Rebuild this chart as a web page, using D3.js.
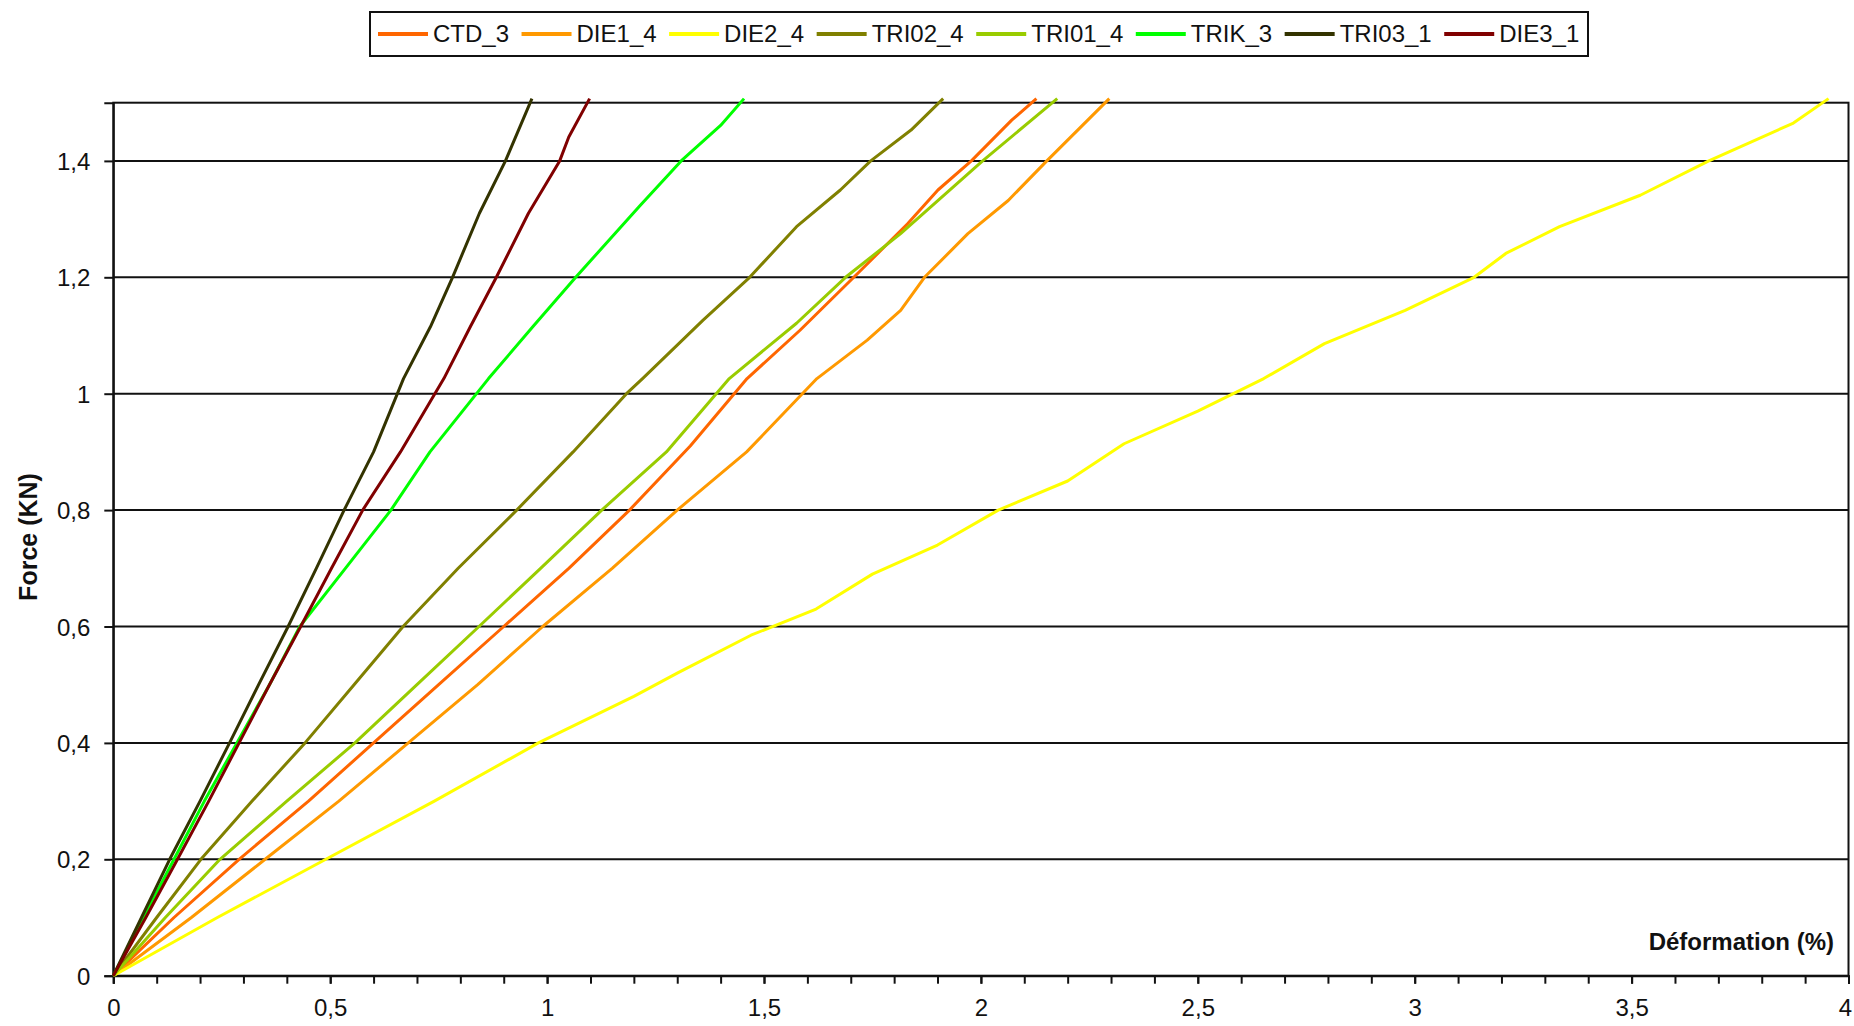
<!DOCTYPE html>
<html>
<head>
<meta charset="utf-8">
<script src="https://cdn.jsdelivr.net/npm/d3@7"></script>
<style>
  html, body { margin: 0; padding: 0; background: #fff; }
  svg { display: block; font-family: "Liberation Sans", Arial, sans-serif; }
</style>
</head>
<body>
<svg id="chart" width="1854" height="1026"></svg>
<script>
// ---- data (deformation %, force kN) ----
const seriesNames = ["CTD_3", "DIE1_4", "DIE2_4", "TRI02_4", "TRI01_4", "TRIK_3", "TRI03_1", "DIE3_1"];
const seriesColors = ["#FF6600", "#FF9900", "#FFFF00", "#808000", "#99CC00", "#00FF00", "#333300", "#800000"];

const CTD_3 = [[0,0],[0.14,0.1],[0.29,0.2],[0.45,0.3],[0.6,0.4],[0.75,0.5],[0.9,0.6],[1.05,0.7],[1.19,0.8],[1.33,0.91],[1.461,1.026],[1.583,1.109],[1.707,1.2],[1.831,1.292],[1.901,1.35],[1.978,1.4],[2.071,1.47],[2.128,1.507]];
const DIE1_4 = [[0,0],[0.18,0.1],[0.35,0.2],[0.52,0.3],[0.68,0.4],[0.84,0.5],[0.99,0.6],[1.15,0.7],[1.3,0.8],[1.46,0.9],[1.622,1.026],[1.738,1.092],[1.815,1.143],[1.87,1.2],[1.97,1.275],[2.063,1.332],[2.152,1.4],[2.296,1.507]];
const DIE2_4 = [[0,0],[0.24,0.1],[0.49,0.2],[0.74,0.3],[0.98,0.4],[1.2,0.48],[1.3,0.52],[1.47,0.585],[1.62,0.63],[1.75,0.69],[1.9,0.74],[2.04,0.8],[2.2,0.85],[2.33,0.914],[2.5,0.97],[2.652,1.026],[2.792,1.086],[2.978,1.143],[3.137,1.2],[3.21,1.241],[3.334,1.287],[3.52,1.341],[3.678,1.4],[3.873,1.465],[3.954,1.507]];
const TRI02_4 = [[0,0],[0.1,0.1],[0.202,0.2],[0.32,0.3],[0.442,0.4],[0.555,0.5],[0.668,0.6],[0.795,0.7],[0.93,0.8],[1.06,0.9],[1.183,1.0],[1.22,1.026],[1.359,1.126],[1.467,1.2],[1.575,1.287],[1.676,1.35],[1.746,1.4],[1.839,1.453],[1.913,1.507]];
const TRI01_4 = [[0,0],[0.12,0.1],[0.246,0.2],[0.4,0.3],[0.557,0.4],[0.7,0.5],[0.843,0.6],[0.985,0.7],[1.126,0.8],[1.275,0.9],[1.42,1.026],[1.575,1.121],[1.688,1.2],[1.815,1.275],[2.004,1.4],[2.176,1.507]];
const TRIK_3 = [[0,0],[0.07,0.1],[0.14,0.2],[0.21,0.3],[0.285,0.4],[0.36,0.5],[0.43,0.6],[0.535,0.7],[0.64,0.8],[0.73,0.9],[0.865,1.026],[0.967,1.115],[1.066,1.2],[1.215,1.324],[1.309,1.4],[1.4,1.461],[1.454,1.507]];
const TRI03_1 = [[0,0],[0.065,0.1],[0.13,0.2],[0.2,0.3],[0.268,0.4],[0.335,0.5],[0.403,0.6],[0.468,0.7],[0.532,0.8],[0.6,0.9],[0.669,1.026],[0.731,1.115],[0.782,1.2],[0.844,1.31],[0.904,1.4],[0.965,1.507]];
const DIE3_1 = [[0,0],[0.075,0.1],[0.148,0.2],[0.22,0.3],[0.29,0.4],[0.36,0.5],[0.432,0.6],[0.503,0.7],[0.575,0.8],[0.662,0.9],[0.762,1.026],[0.823,1.115],[0.883,1.2],[0.957,1.31],[1.029,1.4],[1.05,1.441],[1.098,1.507]];
const seriesData = [CTD_3, DIE1_4, DIE2_4, TRI02_4, TRI01_4, TRIK_3, TRI03_1, DIE3_1];

const yTickValues = [0, 0.2, 0.4, 0.6, 0.8, 1, 1.2, 1.4];
const yTickLabels = ["0", "0,2", "0,4", "0,6", "0,8", "1", "1,2", "1,4"];
const xTickValues = [0, 0.5, 1, 1.5, 2, 2.5, 3, 3.5, 4];
const xTickLabels = ["0", "0,5", "1", "1,5", "2", "2,5", "3", "3,5", "4"];
const xMinorTicks = d3.range(0, 41).map(i => i / 10);

// ---- layout ----
const svg = d3.select("#chart");
const L = 113.3, R = 1848.5, T = 102.7, B = 975.7;
const x = d3.scaleLinear().domain([0, 4]).range([L, R]);
const y = d3.scaleLinear().domain([0, 1.5]).range([B, T]);

// gridlines
svg.append("g").selectAll("line").data(yTickValues.filter(v => v > 0)).join("line")
  .attr("x1", L).attr("x2", R).attr("y1", d => y(d)).attr("y2", d => y(d))
  .attr("stroke", "#111").attr("stroke-width", 2);

// plot border
svg.append("rect").attr("x", L).attr("y", T).attr("width", R - L).attr("height", B - T)
  .attr("fill", "none").attr("stroke", "#111").attr("stroke-width", 2);

// y axis
const yAxis = svg.append("g").attr("transform", `translate(${L},0)`)
  .call(d3.axisLeft(y).tickValues(yTickValues).tickSize(9).tickPadding(14)
    .tickFormat((d, i) => yTickLabels[i]));
yAxis.select(".domain").attr("stroke", "#111").attr("stroke-width", 2);
yAxis.selectAll(".tick line").attr("stroke", "#111").attr("stroke-width", 2);
yAxis.selectAll(".tick text").attr("font-size", 24).attr("fill", "#111")
  .attr("font-family", "Liberation Sans, Arial, sans-serif").attr("dy", "0.36em");

// x axis minor ticks
const xMinor = svg.append("g").attr("transform", `translate(0,${B})`)
  .call(d3.axisBottom(x).tickValues(xMinorTicks).tickSize(8).tickFormat(""));
xMinor.select(".domain").attr("stroke", "#111").attr("stroke-width", 2);
xMinor.selectAll(".tick line").attr("stroke", "#111").attr("stroke-width", 2);

// x axis major labels
const xAxis = svg.append("g").attr("transform", `translate(0,${B})`)
  .call(d3.axisBottom(x).tickValues(xTickValues).tickSize(8).tickPadding(10)
    .tickFormat((d, i) => xTickLabels[i]));
xAxis.select(".domain").remove();
xAxis.selectAll(".tick line").attr("stroke", "#111").attr("stroke-width", 2);
xAxis.selectAll(".tick text").attr("font-size", 24).attr("fill", "#111")
  .attr("font-family", "Liberation Sans, Arial, sans-serif").attr("dy", "0.95em");
// keep the last label inside the page
xAxis.selectAll(".tick text").filter(d => d === 4).attr("text-anchor", "end").attr("x", 3);

// series
const line = d3.line().x(d => x(d[0])).y(d => y(d[1]));
svg.append("g").selectAll("path").data(seriesData).join("path")
  .attr("d", line)
  .attr("fill", "none")
  .attr("stroke", (d, i) => seriesColors[i])
  .attr("stroke-width", 3)
  .attr("stroke-linejoin", "round");

// axis titles
svg.append("text").attr("x", 1834).attr("y", 950).attr("text-anchor", "end")
  .attr("font-size", 24).attr("font-weight", "bold").attr("fill", "#111")
  .text("Déformation (%)");
svg.append("text").attr("transform", "translate(36.5,537) rotate(-90)")
  .attr("text-anchor", "middle").attr("font-size", 25).attr("font-weight", "bold").attr("fill", "#111")
  .text("Force (KN)");

// legend
const lg = svg.append("g");
lg.append("rect").attr("x", 370).attr("y", 12).attr("width", 1218).attr("height", 44)
  .attr("fill", "#fff").attr("stroke", "#111").attr("stroke-width", 2);
let cx = 378;
seriesNames.forEach((name, i) => {
  lg.append("line").attr("x1", cx).attr("x2", cx + 50).attr("y1", 34).attr("y2", 34)
    .attr("stroke", seriesColors[i]).attr("stroke-width", 4);
  const t = lg.append("text").attr("x", cx + 55).attr("y", 42).attr("font-size", 24)
    .attr("fill", "#111").text(name);
  const w = t.node().getComputedTextLength();
  cx += 55 + w + 12.5;
});
</script>
</body>
</html>
